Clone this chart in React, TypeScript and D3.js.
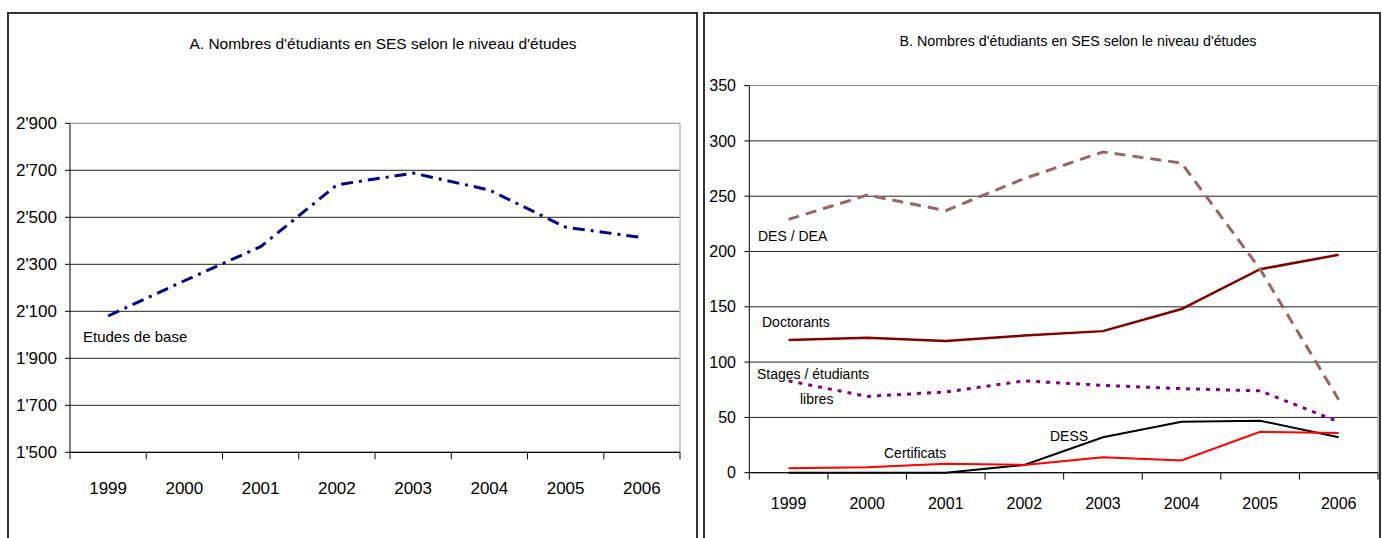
import React from "react";
import * as d3 from "d3";

const years = ["1999", "2000", "2001", "2002", "2003", "2004", "2005", "2006"];

// Panel A
const etudesDeBase = [2080, 2230, 2375, 2638, 2688, 2616, 2458, 2414];
const yTicksA = [1500, 1700, 1900, 2100, 2300, 2500, 2700, 2900];

// Panel B
const desDea = [229, 251, 237, 266, 290, 280, 184, 66];
const doctorants = [120, 122, 119, 124, 128, 148, 184, 197];
const stages = [83, 69, 73, 83, 79, 76, 74, 46];
const dess = [0, 0, 0, 7, 32, 46, 47, 32];
const certificats = [4, 5, 8, 7, 14, 11, 37, 36];
const yTicksB = [0, 50, 100, 150, 200, 250, 300, 350];

const FONT = "'Liberation Sans', Arial, sans-serif";

const fmtA = (v: number) => `${Math.floor(v / 1000)}'${String(v % 1000).padStart(3, "0")}`;

function Panel(props: {
  x0: number; x1: number; y0: number; y1: number;
  domain: [number, number]; ticks: number[]; fmt: (v: number) => string;
  tickFont: number; xLabelY: number; yLabelX: number;
  children: (x: d3.ScaleBand<string>, y: d3.ScaleLinear<number, number>) => React.ReactNode;
}) {
  const { x0, x1, y0, y1, domain, ticks, fmt, tickFont, xLabelY, yLabelX } = props;
  const x = d3.scaleBand<string>().domain(years).range([x0, x1]).padding(0);
  const y = d3.scaleLinear().domain(domain).range([y1, y0]);
  const bounds = [...years.map((yy) => x(yy)!), x1];
  return (
    <g>
      {ticks.map((t) => (
        <line key={"g" + t} x1={x0} x2={x1} y1={y(t)} y2={y(t)}
          stroke={t === domain[1] ? "#888" : "#222"} strokeWidth={1} />
      ))}
      <line x1={x1} x2={x1} y1={y0} y2={y1} stroke="#b8b8b8" strokeWidth={1.5} />
      {props.children(x, y)}
      <line x1={x0} x2={x0} y1={y0} y2={y1} stroke="#000" strokeWidth={1} />
      <line x1={x0} x2={x1} y1={y1} y2={y1} stroke="#000" strokeWidth={1} />
      {ticks.map((t) => (
        <g key={"t" + t}>
          <line x1={x0 - 5} x2={x0} y1={y(t)} y2={y(t)} stroke="#000" />
          <text x={yLabelX} y={y(t)} dy="0.35em" textAnchor="end" fontSize={tickFont} fontFamily={FONT} fill="#000">
            {fmt(t)}
          </text>
        </g>
      ))}
      {bounds.map((b, i) => (
        <line key={"xt" + i} x1={b} x2={b} y1={y1} y2={y1 + 7} stroke="#000" />
      ))}
      {years.map((yy) => (
        <text key={"xl" + yy} x={x(yy)! + x.bandwidth() / 2} y={xLabelY} textAnchor="middle"
          fontSize={tickFont} fontFamily={FONT} fill="#000">{yy}</text>
      ))}
    </g>
  );
}

function seriesPath(x: d3.ScaleBand<string>, y: d3.ScaleLinear<number, number>, vals: number[]) {
  return d3.line<number>()
    .x((_, i) => x(years[i])! + x.bandwidth() / 2)
    .y((v) => y(v))(vals) || "";
}

export default function App() {
  return (
    <svg width={1382} height={538} style={{ position: "absolute", left: 0, top: 0, background: "#fff" }}>
      <rect x={0} y={0} width={1382} height={538} fill="#fff" />
      {/* frames */}
      <path d="M8,545 L8,13 L697,13 L697,545" fill="none" stroke="#333" strokeWidth={2} />
      <path d="M704,545 L704,13 L1380,13 L1380,545" fill="none" stroke="#333" strokeWidth={2} />

      <text x={383} y={49} textAnchor="middle" fontSize={15} fontFamily={FONT} textLength={387} lengthAdjust="spacingAndGlyphs">
        A. Nombres d'étudiants en SES selon le niveau d'études
      </text>
      <text x={1078} y={46} textAnchor="middle" fontSize={14} fontFamily={FONT} textLength={357} lengthAdjust="spacingAndGlyphs">
        B. Nombres d'étudiants en SES selon le niveau d'études
      </text>

      <Panel x0={70} x1={680} y0={123.3} y1={452.3} domain={[1500, 2900]} ticks={yTicksA} fmt={fmtA}
        tickFont={17} xLabelY={494} yLabelX={57}>
        {(x, y) => (
          <g>
            <path d={seriesPath(x, y, etudesDeBase)} fill="none" stroke="#000080" strokeWidth={3}
              strokeDasharray="12 6 3 6" />
            <text x={83} y={342} fontSize={15} fontFamily={FONT}>Etudes de base</text>
          </g>
        )}
      </Panel>

      <Panel x0={749.3} x1={1378} y0={85.6} y1={472.7} domain={[0, 350]} ticks={yTicksB} fmt={(v) => String(v)}
        tickFont={16} xLabelY={509} yLabelX={736}>
        {(x, y) => (
          <g>
            <path d={seriesPath(x, y, dess)} fill="none" stroke="#000" strokeWidth={2} />
            <path d={seriesPath(x, y, certificats)} fill="none" stroke="#ff0000" strokeWidth={2} />
            <path d={seriesPath(x, y, stages)} fill="none" stroke="#800080" strokeWidth={3} strokeDasharray="4 6" />
            <path d={seriesPath(x, y, doctorants)} fill="none" stroke="#800000" strokeWidth={2.5} />
            <path d={seriesPath(x, y, desDea)} fill="none" stroke="#996666" strokeWidth={3} strokeDasharray="11 7" />
            <text x={758} y={241} fontSize={14} fontFamily={FONT}>DES / DEA</text>
            <text x={762} y={327} fontSize={14} fontFamily={FONT}>Doctorants</text>
            <text x={757} y={379} fontSize={14} fontFamily={FONT}>Stages / étudiants</text>
            <text x={800} y={404} fontSize={14} fontFamily={FONT}>libres</text>
            <text x={884} y={458} fontSize={14} fontFamily={FONT}>Certificats</text>
            <text x={1050} y={441} fontSize={14} fontFamily={FONT}>DESS</text>
          </g>
        )}
      </Panel>
    </svg>
  );
}
